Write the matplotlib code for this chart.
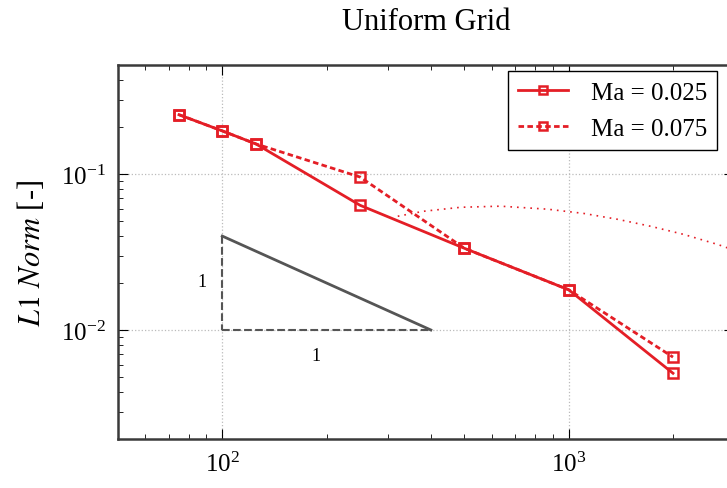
#!/usr/bin/env python3
"""Uniform grid convergence plot (L1 norm vs grid size)."""
import matplotlib
matplotlib.use("Agg")
import matplotlib.pyplot as plt

plt.rcParams["font.family"] = ["Liberation Serif", "DejaVu Serif"]
plt.rcParams["mathtext.fontset"] = "stix"

RED = "#e41e26"
GRAY = "#555555"

# grid resolution
n_cells = [75, 100, 125, 250, 500, 1000, 2000]
l1_ma025 = [0.240, 0.189, 0.156, 0.063, 0.0334, 0.0181, 0.00528]
l1_ma075 = [0.240, 0.189, 0.156, 0.0956, 0.0334, 0.0181, 0.0067]

# faint dotted curve in the background
curve_x = [321, 381, 488, 635, 869, 1104, 1387, 1726, 2148, 2697, 3000]
curve_y = [0.0536, 0.0577, 0.0612, 0.0622, 0.0595, 0.0559, 0.0512, 0.0462, 0.0410, 0.0353, 0.0325]

# slope triangle
tri_x = [100, 400]
tri_y = [0.04, 0.01]


def main() -> None:
    fig = plt.figure(figsize=(7.27, 4.89), dpi=100)
    ax = fig.add_axes([118 / 727, 49 / 489, 616 / 727, 374 / 489])

    ax.plot(curve_x, curve_y, color=RED, linestyle=(0, (1, 3)), linewidth=1.2)

    ax.plot(tri_x, tri_y, color=GRAY, linewidth=2)
    ax.plot([tri_x[0], tri_x[0]], [tri_y[0], tri_y[1]], color=GRAY, linestyle="--", linewidth=1.5)
    ax.plot(tri_x, [tri_y[1], tri_y[1]], color=GRAY, linestyle="--", linewidth=1.5)
    ax.text(87.5, 0.0204, "1", fontsize=13, ha="center", va="center")
    ax.text(187, 0.0069, "1", fontsize=13, ha="center", va="center")

    ax.plot(n_cells, l1_ma075, color=RED, linestyle=(0, (2, 1.2)), linewidth=2,
            marker="s", markersize=7, markerfacecolor="none", markeredgewidth=1.8,
            label="Ma = 0.075")
    ax.plot(n_cells, l1_ma025, color=RED, linestyle="-", linewidth=2,
            marker="s", markersize=7, markerfacecolor="none", markeredgewidth=1.8,
            label="Ma = 0.025")

    ax.set_xscale("log")
    ax.set_yscale("log")
    ax.set_xlim(50, 3000)
    ax.set_ylim(0.002, 0.5)
    ax.grid(True, which="major", color="#bbbbbb", linestyle=":", linewidth=0.9)
    ax.tick_params(which="both", direction="in", top=True, right=True, labelsize=18, pad=9)
    ax.tick_params(which="major", length=7)
    ax.tick_params(which="minor", length=3.5)
    for sp in ax.spines.values():
        sp.set_color("#3a3a3a")
        sp.set_linewidth(1.8)

    ax.set_ylabel(r"$\mathit{L1\ Norm}$ [-]", fontsize=22, labelpad=10)
    ax.set_title("Uniform Grid", fontsize=22, pad=26)

    handles, labels = ax.get_legend_handles_labels()
    leg = ax.legend(handles[::-1], labels[::-1], loc="upper right",
                    bbox_to_anchor=((717 - 118) / 616, (440 - 72) / 374),
                    fontsize=18, fancybox=False, framealpha=1, edgecolor="black",
                    handlelength=2.0, borderpad=0.4, labelspacing=0.55,
                    handletextpad=0.9, borderaxespad=0, markerscale=0.8)
    leg.get_frame().set_linewidth(1.0)

    fig.savefig("out.png", dpi=100)
    plt.close(fig)


if __name__ == "__main__":
    main()
